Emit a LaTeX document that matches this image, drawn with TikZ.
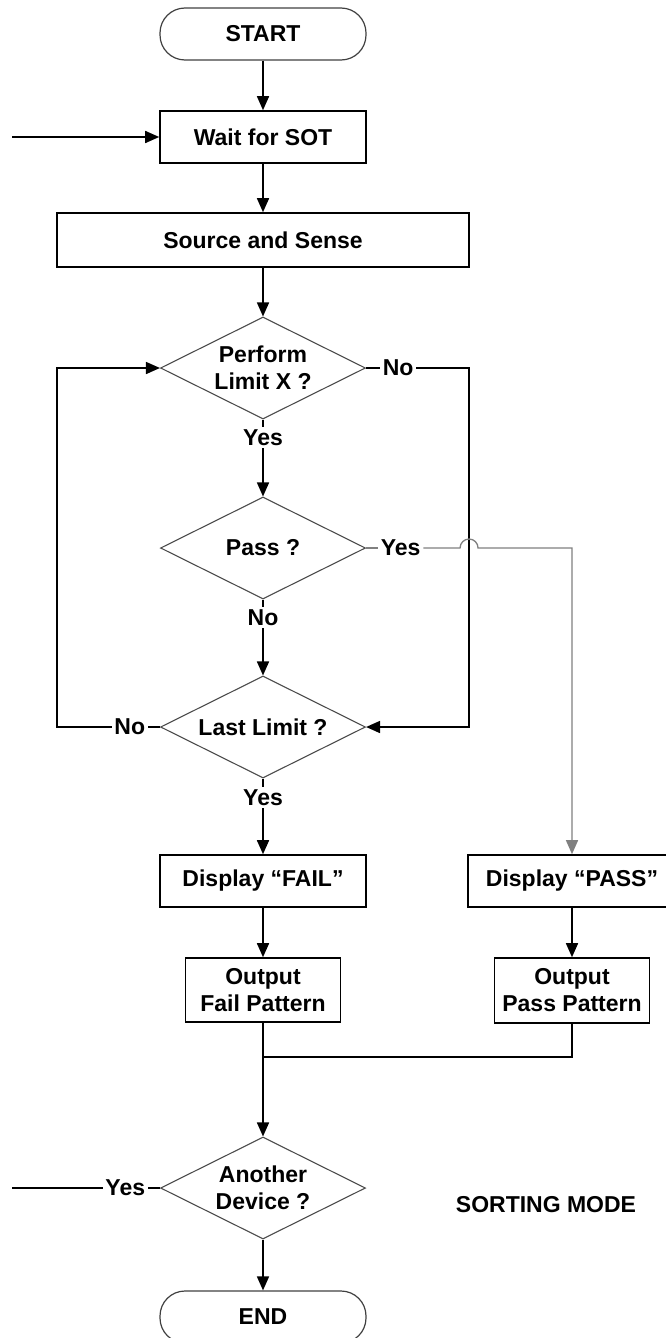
\documentclass[tikz,border=0pt]{standalone}
\usepackage{fontspec}
\setmainfont{Liberation Sans}
\usetikzlibrary{arrows.meta,positioning,calc,shapes.geometric}

\begin{document}
\begin{tikzpicture}[x=1pt, y=-1pt, >={Triangle[length=14pt,width=12pt]},
  font=\fontsize{23}{27}\selectfont\bfseries, line width=1.6pt,
  term/.style={draw=black!75, line width=1.2pt, rounded corners=25pt, minimum width=206pt, minimum height=52pt},
  box/.style={draw, minimum width=206pt, minimum height=52pt, align=center, inner sep=3pt},
  decision/.style={draw=black!70, line width=1.1pt, diamond, aspect=2, inner sep=0pt,
                   minimum width=205pt, minimum height=102pt, align=center},
  lbl/.style={inner sep=2pt},
  passline/.style={draw=black!50, line width=1.3pt}]
  \useasboundingbox (0,0) rectangle (665,1338);
  % main column
  \node[term] (start) at (263,34) {START};
  \node[box] (wait) at (263,137) {Wait for SOT};
  \node[box, minimum width=412pt, minimum height=54pt] (source) at (263,240) {Source and Sense};
  \node[decision] (perform) at (263,368) {Perform\\Limit X ?};
  \node[decision] (passq) at (263,548) {Pass ?};
  \node[decision] (lastq) at (263,727) {Last Limit ?};
  \node[box] (dfail) at (263,881) {Display “FAIL”};
  \node[box, minimum width=208pt] (dpass) at (572,881) {Display “PASS”};
  \node[box, minimum width=155pt, minimum height=64pt] (ofail) at (263,990) {Output\\Fail Pattern};
  \node[box, minimum width=155pt, minimum height=65pt] (opass) at (572,990.5) {Output\\Pass Pattern};
  \node[decision] (another) at (263,1188) {Another\\Device ?};
  \node[term] (endn) at (263,1317) {END};
  \node (mode) at (546,1205) {SORTING MODE};
  % branch labels
  \node[lbl, right=14pt of perform.east] (no1) {No};
  \node[lbl, below=7pt of perform.south] (yes1) {Yes};
  \node[lbl, right=12pt of passq.east] (yes2) {Yes};
  \node[lbl, below=7pt of passq.south] (no2) {No};
  \node[lbl, left=12pt of lastq.west] (no3) {No};
  \node[lbl, below=8pt of lastq.south] (yes3) {Yes};
  \node[lbl, left=12pt of another.west] (yes4) {Yes};
  \coordinate (rbus) at ($(perform.east)+(103,0)$);
  \coordinate (lbus) at ($(lastq.west)+(-103,0)$);
  \coordinate (merge) at ($(ofail.south)+(0,34)$);
  \coordinate (in1) at ($(wait.west)+(-147,0)$);
  \coordinate (in2) at ($(another.west)+(-148,0)$);
  % connectors
  \draw[->] (start) -- (wait);
  \draw[->] (in1) -- (wait);
  \draw[->] (wait) -- (source);
  \draw[->] (source) -- (perform);
  \draw (perform.east) -- (no1);
  \draw[->] (no1) -- (rbus) |- (lastq.east);
  \draw (perform.south) -- (yes1);
  \draw[->] (yes1) -- (passq);
  \draw[passline] (passq.east) -- (yes2);
  \draw[passline,->] (yes2) -- ($(rbus |- yes2)+(-9,0)$) arc[start angle=180, end angle=0, radius=9pt] -| (dpass);
  \draw (passq.south) -- (no2);
  \draw[->] (no2) -- (lastq);
  \draw (lastq.west) -- (no3);
  \draw[->] (no3) -- (lbus) |- (perform.west);
  \draw (lastq.south) -- (yes3);
  \draw[->] (yes3) -- (dfail);
  \draw[->] (dfail) -- (ofail);
  \draw[->] (dpass) -- (opass);
  \draw[->] (ofail) -- (another);
  \draw (opass) |- (merge);
  \draw (another.west) -- (yes4);
  \draw (yes4) -- (in2);
  \draw[->] (another) -- (endn);
\end{tikzpicture}
\end{document}
